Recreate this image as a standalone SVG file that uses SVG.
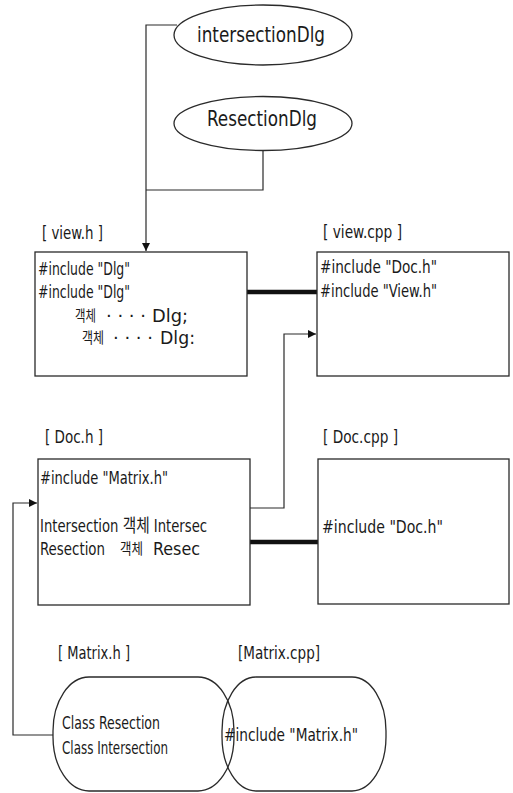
<svg xmlns="http://www.w3.org/2000/svg" width="513" height="793" viewBox="0 0 513 793">
<style>
.bg{fill:#ffffff}
.shape{fill:#ffffff;stroke:#2a2a2a;stroke-width:1.3}
.open{fill:none;stroke:#2a2a2a;stroke-width:1.3}
.conn{fill:none;stroke:#2a2a2a;stroke-width:1.2}
.thick{fill:none;stroke:#111;stroke-width:4.5;stroke-linecap:round}
text{font-family:"Liberation Sans Narrow","DejaVu Sans Condensed","Liberation Sans","Noto Sans CJK KR",sans-serif;fill:#1a1a1a;font-size:18px}
.big{font-size:21px}
.lbl{font-size:17px}
.kr{font-size:15px}
</style>
<defs>
<marker id="arr" viewBox="0 0 10 10" refX="10" refY="5" markerWidth="8" markerHeight="8" markerUnits="userSpaceOnUse" orient="auto">
<path d="M0,0 L10,5 L0,10 Z" fill="#111"/>
</marker>
</defs>
<rect class="bg" x="0" y="0" width="513" height="793"/>

<g id="connectors">
<polyline class="conn" points="177,25 146,25 146,251" marker-end="url(#arr)"/>
<polyline class="conn" points="263,150 263,190 146,190"/>
<line class="thick" x1="247" y1="292" x2="317" y2="292"/>
<polyline class="conn" points="250,508 284,508 284,334 316,334" marker-end="url(#arr)"/>
<line class="thick" x1="250" y1="542" x2="318" y2="542"/>
<polyline class="conn" points="53,735 13,735 13,503 37,503" marker-end="url(#arr)"/>
</g>

<g id="intersectionDlg">
<ellipse class="shape" cx="263" cy="35" rx="89" ry="30"/>
<text class="big" x="197" y="42" textLength="128" lengthAdjust="spacingAndGlyphs">intersectionDlg</text>
</g>

<g id="ResectionDlg">
<ellipse class="shape" cx="263" cy="123.5" rx="89" ry="27"/>
<text class="big" x="207" y="126" textLength="110" lengthAdjust="spacingAndGlyphs">ResectionDlg</text>
</g>

<g id="view_h">
<text class="lbl" x="42" y="239" textLength="61" lengthAdjust="spacingAndGlyphs">[ view.h ]</text>
<rect class="shape" x="35" y="252" width="212" height="124"/>
<text x="38" y="275" textLength="92" lengthAdjust="spacingAndGlyphs">#include "Dlg"</text>
<text x="38" y="298" textLength="92" lengthAdjust="spacingAndGlyphs">#include "Dlg"</text>
<text class="kr" x="75" y="321" textLength="21" lengthAdjust="spacingAndGlyphs">객체</text>
<text x="106" y="322" textLength="40" lengthAdjust="spacingAndGlyphs">· · · ·</text>
<text x="152" y="322" textLength="36" lengthAdjust="spacingAndGlyphs">Dlg;</text>
<text class="kr" x="82" y="343" textLength="22" lengthAdjust="spacingAndGlyphs">객체</text>
<text x="113" y="344" textLength="40" lengthAdjust="spacingAndGlyphs">· · · ·</text>
<text x="160" y="344" textLength="35" lengthAdjust="spacingAndGlyphs">Dlg:</text>
</g>

<g id="view_cpp">
<text class="lbl" x="323" y="238" textLength="79" lengthAdjust="spacingAndGlyphs">[ view.cpp ]</text>
<rect class="shape" x="317" y="252" width="192" height="124"/>
<text x="320" y="273" textLength="117" lengthAdjust="spacingAndGlyphs">#include "Doc.h"</text>
<text x="320" y="297" textLength="117" lengthAdjust="spacingAndGlyphs">#include "View.h"</text>
</g>

<g id="Doc_h">
<text class="lbl" x="45" y="443" textLength="58" lengthAdjust="spacingAndGlyphs">[ Doc.h ]</text>
<rect class="shape" x="38" y="459" width="212" height="146"/>
<text x="40" y="484" textLength="128" lengthAdjust="spacingAndGlyphs">#include "Matrix.h"</text>
<text x="40" y="532" textLength="167" lengthAdjust="spacingAndGlyphs">Intersection 객체 Intersec</text>
<text x="40" y="555" textLength="65" lengthAdjust="spacingAndGlyphs">Resection</text>
<text class="kr" x="120" y="554" textLength="23" lengthAdjust="spacingAndGlyphs">객체</text>
<text x="153" y="555" textLength="47" lengthAdjust="spacingAndGlyphs">Resec</text>
</g>

<g id="Doc_cpp">
<text class="lbl" x="323" y="443" textLength="75" lengthAdjust="spacingAndGlyphs">[ Doc.cpp ]</text>
<rect class="shape" x="318" y="459" width="191" height="145"/>
<text x="322" y="533" textLength="121" lengthAdjust="spacingAndGlyphs">#include "Doc.h"</text>
</g>

<g id="Matrix_h">
<text class="lbl" x="58" y="659" textLength="72" lengthAdjust="spacingAndGlyphs">[ Matrix.h ]</text>
<rect class="open" x="53" y="677" width="181" height="114" rx="36" ry="54"/>
<text x="62" y="729" textLength="98" lengthAdjust="spacingAndGlyphs">Class Resection</text>
<text x="62" y="754" textLength="106" lengthAdjust="spacingAndGlyphs">Class Intersection</text>
</g>

<g id="Matrix_cpp">
<text class="lbl" x="238" y="659" textLength="82" lengthAdjust="spacingAndGlyphs">[Matrix.cpp]</text>
<rect class="open" x="222" y="677" width="164" height="114" rx="34" ry="54"/>
<text x="224" y="741" textLength="134" lengthAdjust="spacingAndGlyphs">#include "Matrix.h"</text>
</g>
</svg>
